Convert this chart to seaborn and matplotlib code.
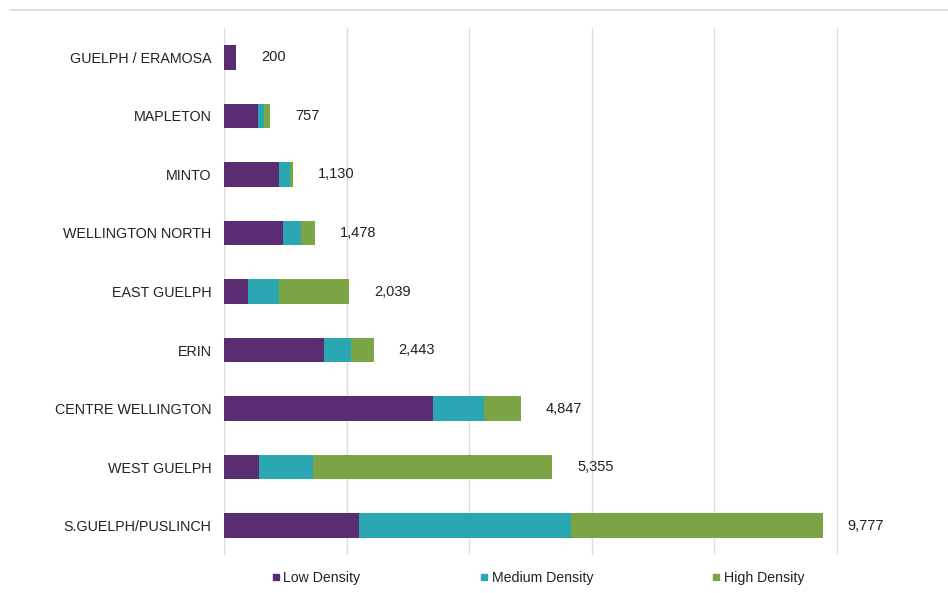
import matplotlib
matplotlib.use("Agg")
import matplotlib.pyplot as plt
import seaborn as sns
import pandas as pd
import numpy as np
from matplotlib.lines import Line2D

categories = ["GUELPH / ERAMOSA", "MAPLETON", "MINTO", "WELLINGTON NORTH",
              "EAST GUELPH", "ERIN", "CENTRE WELLINGTON", "WEST GUELPH",
              "S.GUELPH/PUSLINCH"]
low_density = [200, 560, 900, 965, 390, 1630, 3410, 570, 2200]
medium_density = [0, 100, 170, 290, 505, 440, 830, 880, 3470]
high_density = [0, 97, 60, 223, 1144, 373, 607, 3905, 4107]
totals = [200, 757, 1130, 1478, 2039, 2443, 4847, 5355, 9777]
series_names = ["Low Density", "Medium Density", "High Density"]
colors = ["#5a2d72", "#2aa7b3", "#7ba545"]

df = pd.DataFrame({"cat": categories, "low": low_density,
                   "med": medium_density, "high": high_density})
df["lm"] = df["low"] + df["med"]
df["all"] = df["lm"] + df["high"]

sns.set_theme(style="white")
plt.rcParams["font.family"] = ["Liberation Sans", "DejaVu Sans"]

fig = plt.figure(figsize=(9.48, 5.93), dpi=100)
ax = fig.add_axes([224/948, 1-555/593, 1-224/948, (555-28)/593])

for col, c, z in [("all", colors[2], 2), ("lm", colors[1], 3), ("low", colors[0], 4)]:
    sns.barplot(data=df, x=col, y="cat", color=c, orient="h",
                width=0.42, ax=ax, saturation=1, zorder=z, linewidth=0)

ax.bar_label(ax.containers[0], labels=[f"{t:,}" for t in totals],
             padding=18, fontsize=10.5, color="#222222")

ax.set_xlim(0, 11820)
ax.set_xticks([0, 2000, 4000, 6000, 8000, 10000])
ax.set_xticklabels([])
ax.grid(axis="x", color="#dcdcdc", linewidth=1, zorder=0)
ax.set_axisbelow(True)
for s in ax.spines.values():
    s.set_visible(False)
ax.set_xlabel("")
ax.set_ylabel("")
ax.tick_params(axis="y", length=0, pad=9, labelsize=10.3, labelcolor="#222222")
ax.tick_params(axis="x", length=0)

handles = [Line2D([], [], marker="s", linestyle="", markersize=4.5,
                  color=c) for c in colors]
fig.legend(handles, series_names, loc="center", ncol=3,
           bbox_to_anchor=(538/948, 1-578/593), frameon=False,
           fontsize=10.2, handlelength=0.6, handletextpad=0.25,
           columnspacing=8.4, labelcolor="#222222")

fig.add_artist(Line2D([10/948, 1], [1-10/593, 1-10/593], color="#d8d8d8",
                      linewidth=1.2, transform=fig.transFigure))

fig.savefig("out.png", dpi=100)
